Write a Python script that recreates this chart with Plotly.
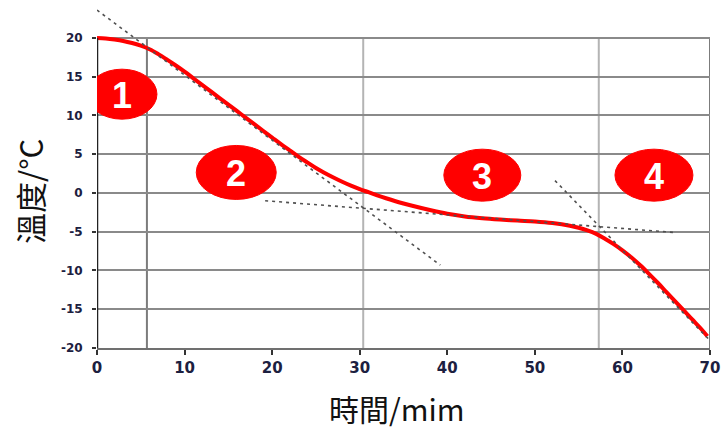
import plotly.graph_objects as go

# Cooling curve: temperature (°C) against time (min)
time_min = [0, 1, 2, 3, 4, 5, 6, 7, 8, 9, 10, 11, 12, 13, 14, 15, 16, 17, 18, 19,
            20, 21, 22, 23, 24, 25, 26, 27, 28, 29, 30, 31, 32, 33, 34, 35, 36,
            38, 40, 42, 44, 46, 48, 50, 52, 54, 55, 56, 57, 58, 59, 60, 61,
            62, 63, 64, 65, 66, 67, 68, 69, 69.7]
temp_c = [20.0, 19.93, 19.8, 19.62, 19.35, 19.0, 18.55, 17.92, 17.2, 16.45, 15.65,
          14.8, 13.95, 13.1, 12.25, 11.4, 10.55, 9.7, 8.85, 8.0, 7.15, 6.3,
          5.5, 4.7, 3.95, 3.22, 2.58, 2.0, 1.45, 0.95, 0.5, 0.1, -0.3, -0.68,
          -1.03, -1.35, -1.65, -2.2, -2.68, -3.02, -3.25, -3.42, -3.56, -3.68,
          -3.88, -4.22, -4.48, -4.83, -5.28, -5.9, -6.6, -7.4, -8.3, -9.3,
          -10.4, -11.55, -12.75, -13.95, -15.15, -16.35, -17.55, -18.5]

# Tangent lines (start/end points) used to split the curve into stages
tangent_x = [[0, 39.2], [19.2, 66.0], [52.3, 69.8]]
tangent_y = [[23.6, -9.3], [-1.0, -5.1], [1.6, -18.8]]

# Stage boundaries (min)
stage_bounds_dark = [5.7, 70]
stage_bounds_light = [30.4, 57.3]

# Stage markers
stage_labels = ["1", "2", "3", "4"]
stage_x = [2.85, 15.9, 44.0, 63.6]
stage_y = [12.75, 2.65, 2.3, 2.3]

x_ticks = [0, 10, 20, 30, 40, 50, 60, 70]
y_ticks = [-20, -15, -10, -5, 0, 5, 10, 15, 20]
y_tick_text = ["-20", "-15", "-10", "-5", "0", "5", "10", "15", "20"]

fig = go.Figure()

# vertical stage lines
for xb in stage_bounds_dark:
    fig.add_shape(type="line", x0=xb, x1=xb, y0=-20, y1=20, layer="below",
                  line=dict(color="#7c7c7c", width=2))
for xb in stage_bounds_light:
    fig.add_shape(type="line", x0=xb, x1=xb, y0=-20, y1=20, layer="below",
                  line=dict(color="#b4b4b4", width=2))
# lighter top border
fig.add_shape(type="line", x0=0, x1=70, y0=20, y1=20, layer="below",
              line=dict(color="#c4c4c4", width=2))

fig.add_trace(go.Scatter(x=time_min, y=temp_c, mode="lines",
                         line=dict(color="#ff0000", width=4, shape="spline"),
                         showlegend=False, hoverinfo="skip"))

for tx, ty in zip(tangent_x, tangent_y):
    fig.add_trace(go.Scatter(x=tx, y=ty, mode="lines",
                             line=dict(color="#505050", width=1.6, dash="3px,4px"),
                             showlegend=False, hoverinfo="skip"))

# left axis line
fig.add_shape(type="line", x0=0, x1=0, y0=-20, y1=20, layer="above",
              line=dict(color="#222222", width=2.5))

sizes = [(70, 50), (80, 54), (77, 52), (78, 52)]
for (w, h), sx, sy, lab in zip(sizes, stage_x, stage_y, stage_labels):
    fig.add_shape(type="circle", xsizemode="pixel", ysizemode="pixel",
                  xanchor=sx, yanchor=sy, x0=-w / 2, x1=w / 2, y0=-h / 2, y1=h / 2,
                  fillcolor="#ff0000", line=dict(color="#ff0000", width=1),
                  layer="above")
    fig.add_annotation(x=sx, y=sy, text=lab, showarrow=False,
                       font=dict(family="Liberation Sans", size=36, color="white",
                                 weight="bold"),
                       yshift=-1)

fig.add_annotation(xref="paper", yref="paper", x=-0.111, y=0.451,
                   xanchor="center", yanchor="middle",
                   text="溫度/°C", textangle=-90, showarrow=False,
                   font=dict(family="Noto Sans CJK TC", size=31, color="#111111"))
fig.add_annotation(xref="paper", yref="paper", x=0.489, y=-0.172,
                   xanchor="center", yanchor="middle",
                   text="時間/mim", showarrow=False,
                   font=dict(family="Noto Sans CJK TC", size=30, color="#111111"))

tick_font_x = dict(family="DejaVu Sans", size=15, color="#1c2040", weight="bold")
tick_font_y = dict(family="DejaVu Sans", size=12, color="#1c2040", weight="bold")

fig.update_xaxes(range=[0, 70], tickvals=x_ticks, showgrid=False, zeroline=False,
                 showline=True, linecolor="#707070", linewidth=2,
                 ticks="outside", ticklen=5, tickwidth=2, tickcolor="#333333",
                 tickfont=tick_font_x)
fig.update_yaxes(range=[-20, 24.9], tickvals=y_ticks, ticktext=y_tick_text,
                 showgrid=True, gridcolor="#8a8a8a", gridwidth=2, zeroline=False,
                 showline=False, ticks="outside", ticklen=4, tickwidth=2,
                 tickcolor="#333333", tickfont=tick_font_y, ticklabelstandoff=7)

fig.update_layout(width=723, height=430, margin=dict(l=97, r=13, t=0, b=82),
                  paper_bgcolor="white", plot_bgcolor="white", showlegend=False)

fig.write_html("out.html")
